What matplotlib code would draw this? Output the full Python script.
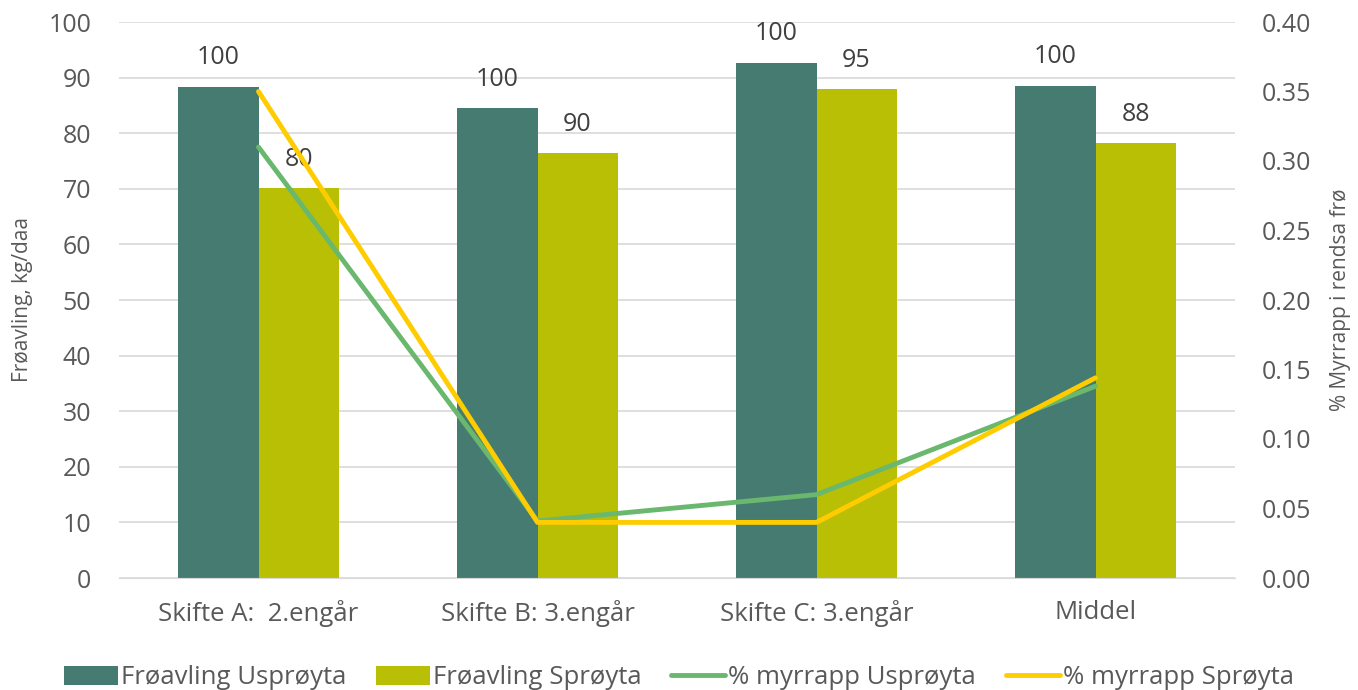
import numpy as np
import matplotlib.pyplot as plt

categories = ["Skifte A:  2.engår", "Skifte B: 3.engår", "Skifte C: 3.engår", "Middel"]
avling_usproyta = [88.3, 84.5, 92.6, 88.5]
avling_sproyta = [70.1, 76.4, 87.9, 78.2]
rel_usproyta = [100, 100, 100, 100]
rel_sproyta = [80, 90, 95, 88]
myrrapp_usproyta = [0.31, 0.041, 0.060, 0.138]
myrrapp_sproyta = [0.35, 0.040, 0.040, 0.144]

plt.rcParams['font.family'] = ['Open Sans', 'DejaVu Sans']
text_col = '#595959'
fs = 18

fig = plt.figure(figsize=(13.58, 6.9), dpi=100)
ax = fig.add_axes([119 / 1358, 1 - 578 / 690, 1116 / 1358, 556 / 690])
ax2 = ax.twinx()

x = np.arange(len(categories))
w = 0.287
b1 = ax.bar(x - w / 2, avling_usproyta, w, color='#467B72', label='Frøavling Usprøyta', zorder=2)
b2 = ax.bar(x + w / 2, avling_sproyta, w, color='#B8BF05', label='Frøavling Sprøyta', zorder=2)

for bars, labels in [(b1, rel_usproyta), (b2, rel_sproyta)]:
    for bar, lab in zip(bars, labels):
        ax.annotate(str(lab), (bar.get_x() + bar.get_width() / 2, bar.get_height()),
                    xytext=(0, 21), textcoords='offset points',
                    ha='center', va='center', fontsize=fs, color='#404040')

l1, = ax2.plot(x, myrrapp_usproyta, color='#6AB86E', lw=3.5, solid_capstyle='round',
               label='% myrrapp Usprøyta')
l2, = ax2.plot(x, myrrapp_sproyta, color='#FFCC00', lw=3.5, solid_capstyle='round',
               label='% myrrapp Sprøyta')

ax.set_xlim(-0.5, 3.5)
ax.set_ylim(0, 100)
ax.set_yticks(range(0, 101, 10))
ax2.set_ylim(0, 0.40)
ax2.set_yticks(np.arange(0, 0.41, 0.05))
ax2.set_yticklabels([f"{v:.2f}" for v in np.arange(0, 0.41, 0.05)])

ax.set_xticks(x)
ax.set_xticklabels(categories)
ax.yaxis.grid(True, color='#D9D9D9', lw=1.2, zorder=0)
ax.set_axisbelow(True)

for a in (ax, ax2):
    for s in a.spines.values():
        s.set_visible(False)
    a.tick_params(length=0, labelsize=fs, labelcolor=text_col)
ax.tick_params(axis='x', labelsize=18.5, pad=16)
ax.spines['bottom'].set_visible(True)
ax.spines['bottom'].set_color('#D9D9D9')
ax.tick_params(axis='y', pad=20)
ax2.tick_params(axis='y', pad=19)

ax.set_ylabel("Frøavling, kg/daa", fontsize=15, color=text_col)
ax2.set_ylabel("% Myrrapp i rendsa frø", fontsize=15, color=text_col)
ax.yaxis.set_label_coords(-86 / 1116, 0.5)
ax2.yaxis.set_label_coords(1211 / 1116, 0.5)

fig.legend(handles=[b1, b2, l1, l2], loc='center', bbox_to_anchor=(0.5, 12 / 690),
           ncol=4, frameon=False, fontsize=18.5, labelcolor=text_col,
           handlelength=2.1, handleheight=0.8, columnspacing=1.15, handletextpad=0.12)

fig.savefig('out.png', dpi=100)
